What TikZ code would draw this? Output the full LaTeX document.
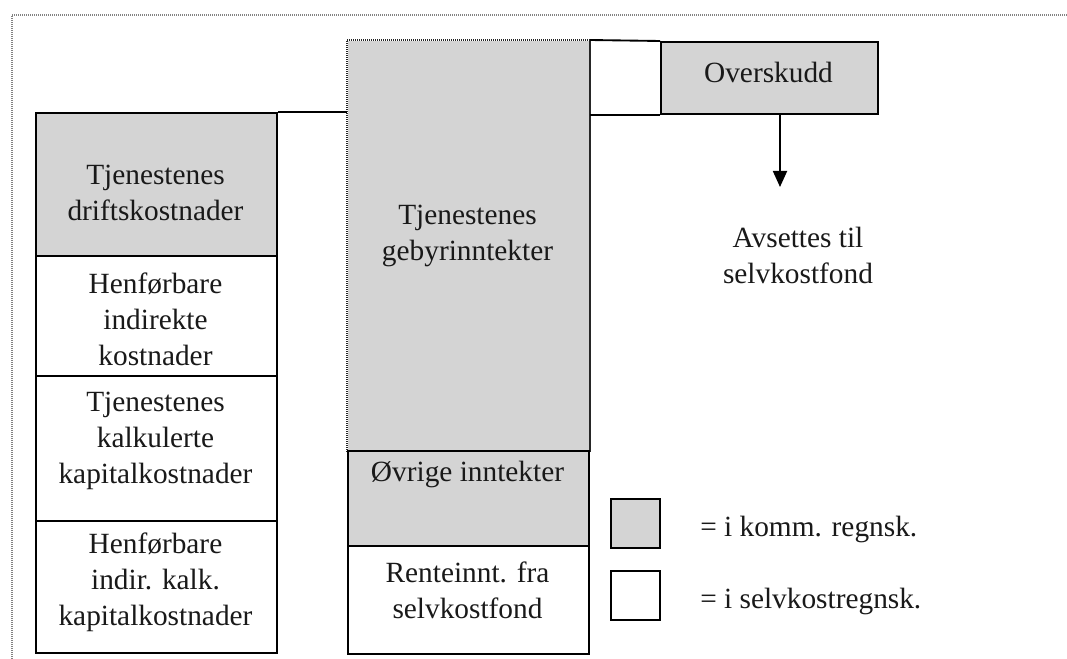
\documentclass[tikz,border=0pt]{standalone}
\usepackage{fontspec}
\setmainfont{Liberation Serif}
\usetikzlibrary{arrows.meta,calc}
\definecolor{boxgray}{RGB}{212,212,212}
\definecolor{framegray}{RGB}{130,130,130}
\begin{document}
\begin{tikzpicture}[x=0.75pt,y=-0.75pt,
  box/.style={draw=black, line width=1.4pt, inner sep=0pt, anchor=north west, minimum width=180.75pt},
  graybox/.style={box, fill=boxgray},
  whitebox/.style={box, fill=white},
  txt/.style={font=\fontsize{22}{27}\selectfont, align=center, inner sep=0pt, text=black!90},
  conn/.style={draw=black, line width=1.4pt},
  dotline/.style={line width=1.5pt, dash pattern=on 1pt off 0.5pt},
  legbox/.style={draw=black, line width=1.4pt, inner sep=0pt, anchor=north west, minimum width=36.75pt, minimum height=36.75pt}
]
\useasboundingbox (0,0) rectangle (1067,659);
% outer dotted frame
\draw[framegray, dotline] (12,659) -- (12,15) -- (1067,15);

% left column
\node[graybox, minimum height={143*0.75pt}] (l1) at (35,112) {};
\node[whitebox, minimum height={120*0.75pt}] (l2) at (35,255) {};
\node[whitebox, minimum height={145*0.75pt}] (l3) at (35,375) {};
\node[whitebox, minimum height={132*0.75pt}] (l4) at (35,520) {};
\node[txt] (tl1) at (155.5,193) {Tjenestenes\\driftskostnader};
\node[txt] (tl2) at (155.5,319) {Henførbare\\indirekte\\kostnader};
\node[txt] (tl3) at (155.5,441) {Tjenestenes\\kalkulerte\\kapitalkostnader};
\node[txt] (tl4) at (155.5,582) {Henførbare\\indir. kalk.\\kapitalkostnader};

% middle column
\node[box, draw=none, fill=boxgray, minimum height={410*0.75pt}] (mg) at (347,40) {};
\draw[black!85, dotline] (mg.south west) -- (mg.north west) -- (mg.north east) -- (mg.south east);
\node[graybox, minimum height={95*0.75pt}] (mo) at (347,450) {};
\node[whitebox, minimum height={108*0.75pt}] (mr) at (347,545) {};
\node[txt] (tm1) at (467.5,236) {Tjenestenes\\gebyrinntekter};
\node[txt] (tm2) at (467.5,474) {Øvrige inntekter};
\node[txt] (tm3) at (467.5,590) {Renteinnt. fra\\selvkostfond};

% Overskudd
\node[graybox, minimum width={217*0.75pt}, minimum height={72*0.75pt}] (ov) at (660,41) {};
\node[txt] (tov) at (768.5,72) {Overskudd};

% connectors
\draw[conn] (l1.north east) -- (l1.north east -| mg.west);
\draw[conn] (mg.north east) -- (ov.north west);
\draw[conn] (ov.south west) -- (ov.south west -| mg.east);
\coordinate (arrtop) at (780,113);
\coordinate (arrend) at (780,187);
\draw[conn, -{Triangle[width=10.5pt,length=12pt]}] (arrtop |- ov.south) -- (arrend);
\node[txt] (tav) at (798,255) {Avsettes til\\selvkostfond};

% legend
\node[legbox, fill=boxgray] (lg1) at (610,498) {};
\node[legbox, fill=white] (lg2) at (610,570) {};
\node[txt, anchor=west] (tlg1) at (700,529) {= i komm. regnsk.};
\node[txt, anchor=west] (tlg2) at (700,601) {= i selvkostregnsk.};
\end{tikzpicture}
\end{document}
